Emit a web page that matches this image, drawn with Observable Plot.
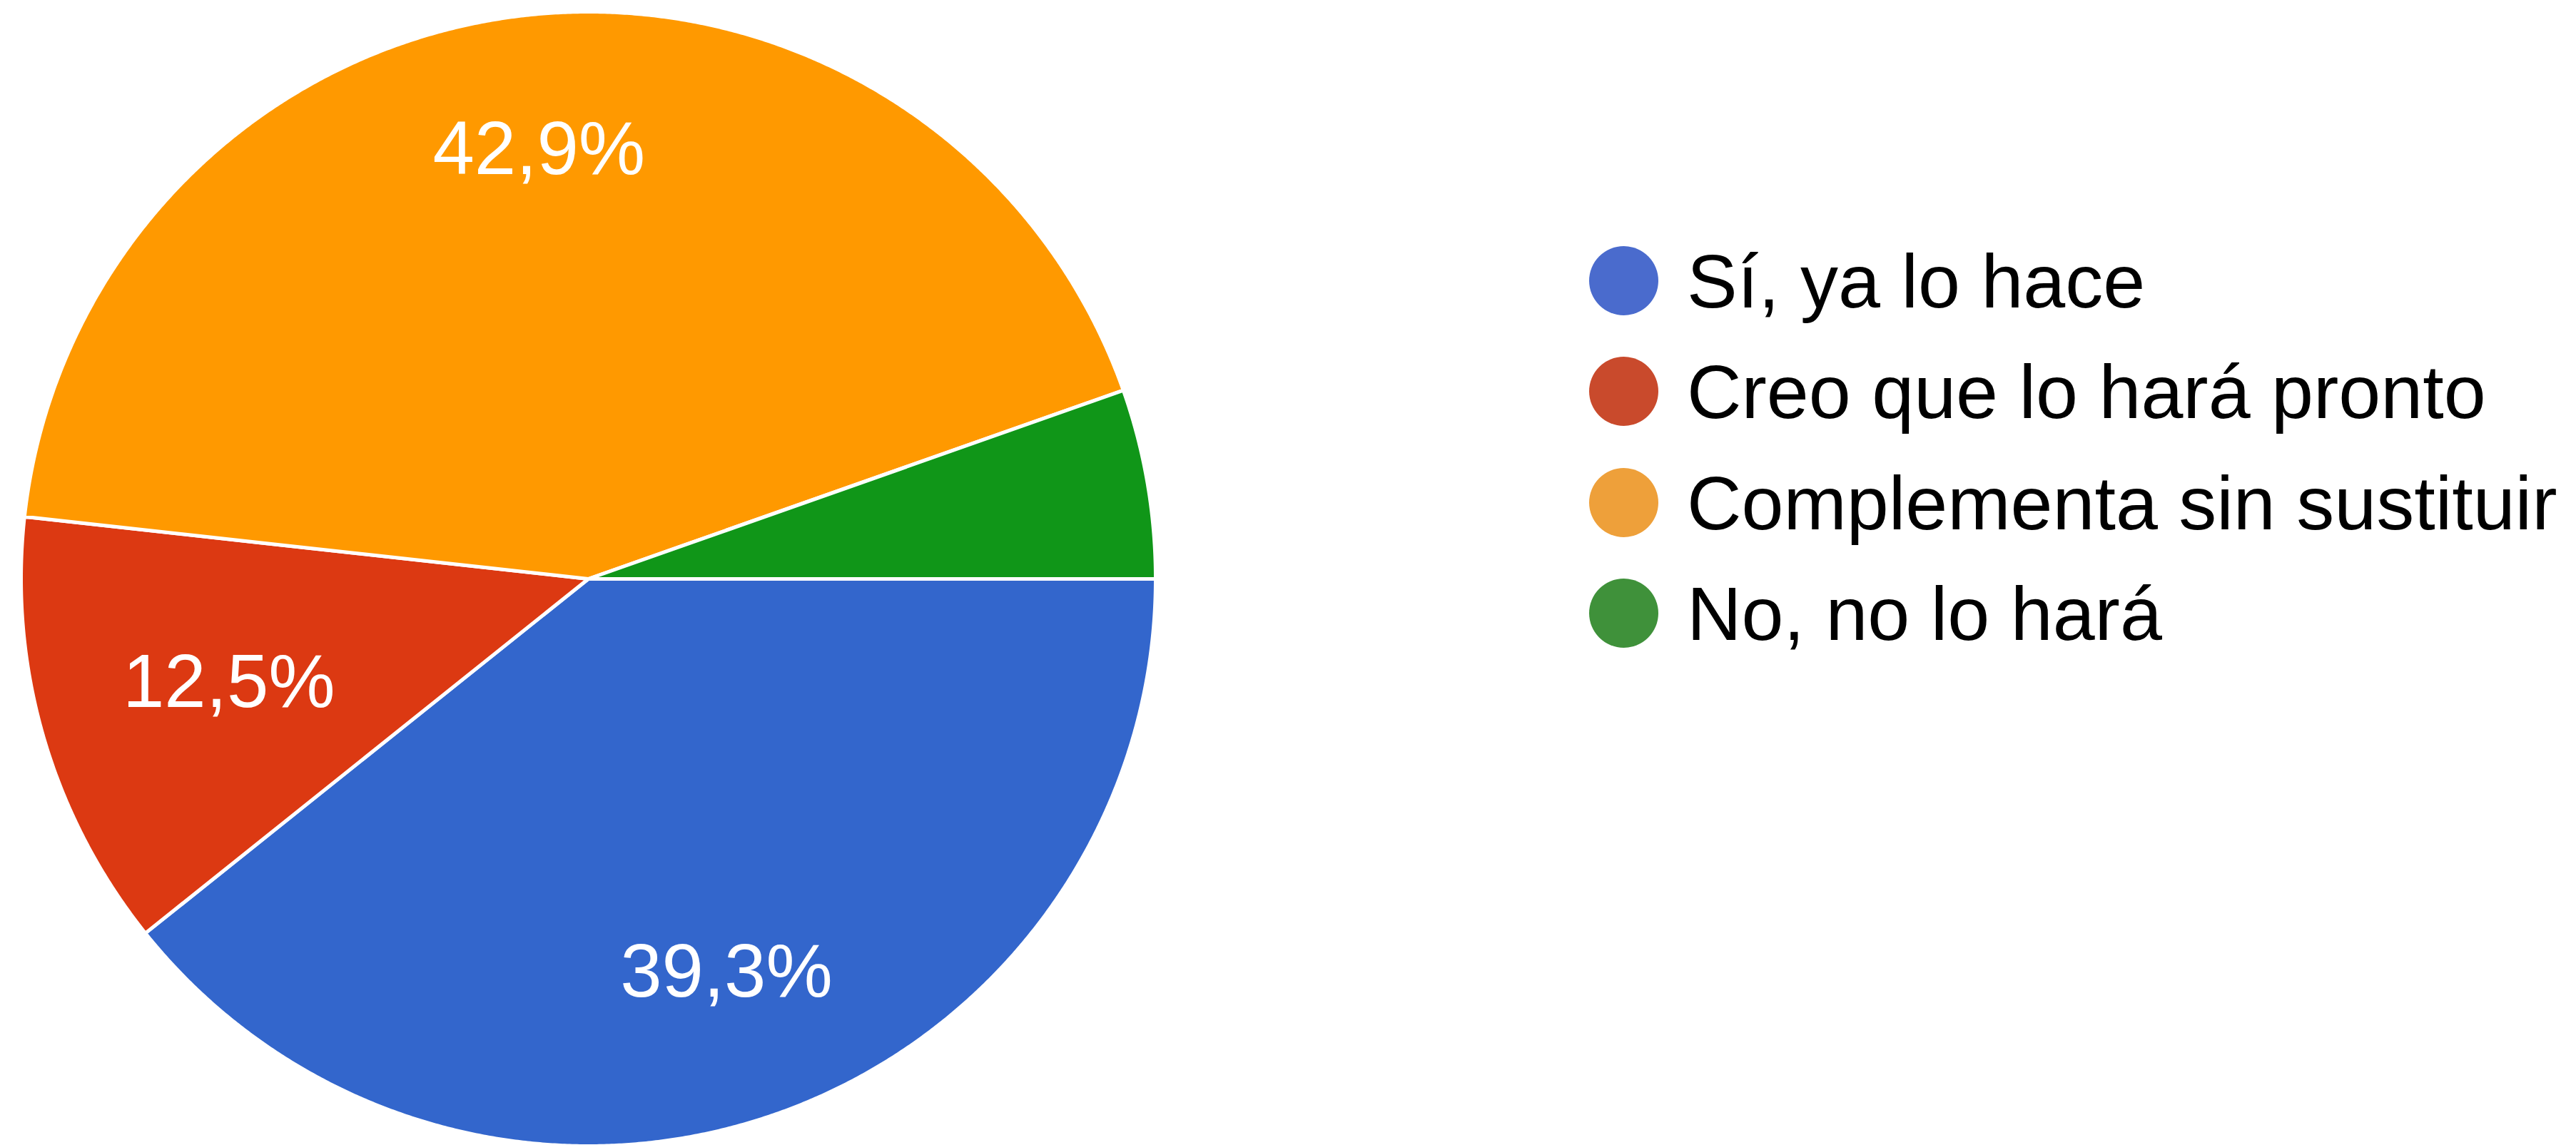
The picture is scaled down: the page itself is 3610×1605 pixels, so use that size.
<!DOCTYPE html>
<html>
<head>
<meta charset="utf-8">
<script src="https://cdn.jsdelivr.net/npm/d3@7"></script>
<script src="https://cdn.jsdelivr.net/npm/@observablehq/plot@0.6"></script>
<style>
  html, body { margin: 0; padding: 0; background: #ffffff; width: 3610px; height: 1605px; overflow: hidden; }
  body { position: relative; font-family: "Liberation Sans", Arial, Helvetica, sans-serif; }
  #chart { position: absolute; left: 0; top: 0; }
  #legend { position: absolute; left: 2227px; top: 345px; }
  .item { position: absolute; left: 0; height: 97px; display: flex; align-items: center; white-space: nowrap; }
  .dot { width: 97px; height: 97px; border-radius: 50%; flex: none; }
  .lab { margin-left: 40px; font-size: 106px; line-height: 97px; color: #000; padding-top: 2px; }
</style>
</head>
<body>
<div id="chart"></div>
<div id="legend"></div>
<script>
// ---- data ----
const categories = ["Sí, ya lo hace", "Creo que lo hará pronto", "Complementa sin sustituir", "No, no lo hará"];
const percents = [39.3, 12.5, 42.9, 5.4];
const sliceColors = ["#3366cc", "#dc3912", "#ff9900", "#109618"];
const legendColors = ["#4a6bcd", "#c94a2c", "#eea03a", "#3f913a"];

// ---- layout ----
const W = 1700, H = 1605, CX = 824, CY = 811, R = 795;

const rows = categories.map((c, i) => ({key: c, value: percents[i]}));
const arcs = d3.pie().sort(null).value(d => d.value)
  .startAngle(Math.PI / 2).endAngle(Math.PI / 2 + 2 * Math.PI)(rows);

// outline of each slice (unit circle coordinates)
const outline = arcs.flatMap(a => {
  const span = a.endAngle - a.startAngle;
  const n = Math.max(2, Math.ceil(span / (Math.PI / 720)));
  const pts = [{key: a.data.key, x: 0, y: 0}];
  for (let i = 0; i <= n; i++) {
    const t = a.startAngle + span * i / n;
    pts.push({key: a.data.key, x: Math.sin(t), y: Math.cos(t)});
  }
  pts.push({key: a.data.key, x: 0, y: 0});
  return pts;
});

// percentage labels (hidden on small slices)
const labels = arcs.filter(a => a.data.value >= 10).map(a => {
  const mid = (a.startAngle + a.endAngle) / 2;
  const rf = 0.775 - 0.12 * Math.abs(Math.sin(mid));
  return {
    x: rf * Math.sin(mid),
    y: rf * Math.cos(mid),
    text: a.data.value.toFixed(1).replace(".", ",") + "%"
  };
});

const chart = Plot.plot({
  width: W,
  height: H,
  margin: 0,
  style: {background: "#ffffff"},
  x: {domain: [-1, 1], range: [CX - R, CX + R], axis: null},
  y: {domain: [-1, 1], range: [CY + R, CY - R], axis: null},
  color: {domain: categories, range: sliceColors},
  marks: [
    Plot.line(outline, {x: "x", y: "y", z: "key", fill: "key", stroke: "#ffffff", strokeWidth: 5, strokeLinejoin: "round"}),
    Plot.text(labels, {x: "x", y: "y", text: "text", fill: "#ffffff", fontSize: 105,
      fontFamily: "Liberation Sans, Arial, Helvetica, sans-serif", textAnchor: "middle"})
  ]
});
document.getElementById("chart").appendChild(chart);

// legend
const legend = document.getElementById("legend");
categories.forEach((c, i) => {
  const item = document.createElement("div");
  item.className = "item";
  item.style.top = (i * 155.3) + "px";
  const dot = document.createElement("div");
  dot.className = "dot";
  dot.style.background = legendColors[i];
  const lab = document.createElement("span");
  lab.className = "lab";
  lab.textContent = c;
  item.appendChild(dot);
  item.appendChild(lab);
  legend.appendChild(item);
});
</script>
</body>
</html>
